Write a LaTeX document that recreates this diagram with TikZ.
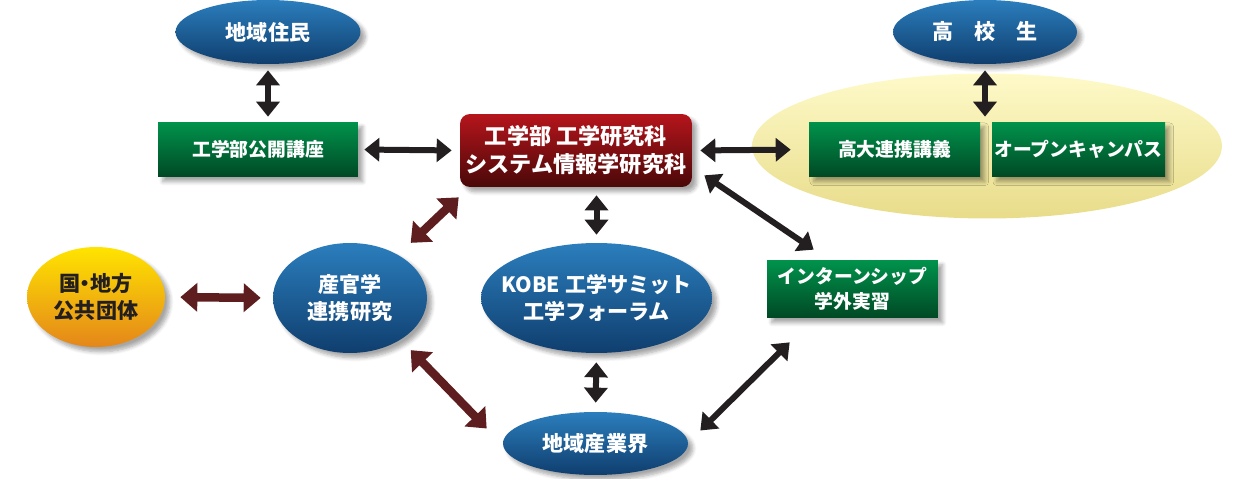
\documentclass[tikz,border=0pt]{standalone}
\usepackage{fontspec}
\setmainfont{Noto Sans CJK JP}
\usetikzlibrary{arrows.meta,shadows,shadows.blur,shapes.geometric}

\definecolor{blueT}{HTML}{2B7EBD}
\definecolor{blueB}{HTML}{0F3E6E}
\definecolor{greenT}{HTML}{00934C}
\definecolor{greenB}{HTML}{004824}
\definecolor{redT}{HTML}{B5151C}
\definecolor{redB}{HTML}{4A0808}
\definecolor{orgT}{HTML}{FFE400}
\definecolor{orgB}{HTML}{E4861A}
\definecolor{ylwT}{HTML}{FEFAC9}
\definecolor{ylwB}{HTML}{E8DC8A}
\definecolor{ink}{HTML}{231F20}
\definecolor{brn}{HTML}{5E1D1E}

\begin{document}
\begin{tikzpicture}[x=0.02cm, y=-0.02cm,
    oval/.style={ellipse, inner sep=0pt, top color=blueT, bottom color=blueB, text=white, align=center,
        font=\bfseries\fontsize{12}{15}\selectfont, blur shadow={shadow blur steps=6, shadow opacity=35}},
    gbox/.style={rectangle, inner sep=0pt, top color=greenT, bottom color=greenB, text=white, align=center,
        minimum height=1.1cm, font=\bfseries\fontsize{10.7}{13}\selectfont, blur shadow={shadow blur steps=6, shadow opacity=35}},
    biarrow/.style={ink, line width=0.12cm, {Triangle[width=0.46cm,length=0.3cm]}-{Triangle[width=0.46cm,length=0.3cm]}},
    redarrow/.style={brn, line width=0.17cm, {Triangle[width=0.56cm,length=0.34cm]}-{Triangle[width=0.56cm,length=0.34cm]}}]
    \useasboundingbox (0,0) rectangle (1236,479);

    % high school group
    \node[ellipse, minimum width=9.4cm, minimum height=2.9cm, top color=ylwT, bottom color=ylwB] (hs) at (987,146) {};

    \node[oval, minimum width=3.7cm, minimum height=1.28cm] (jumin) at (268,32) {地域住民};
    \node[oval, minimum width=3.68cm, minimum height=1.28cm] (kou) at (985,32) {高\quad 校\quad 生};

    \node[gbox, minimum width=4cm] (koukai) at (258,149.5) {工学部公開講座};
    \node[gbox, minimum width=3.42cm] (koudai) at (894.5,149.5) {高大連携講義};
    \node[gbox, minimum width=3.46cm] (open) at (1078.5,149.5) {オープンキャンパス};
    \node[gbox, minimum width=3.42cm, minimum height=1.16cm, font=\bfseries\fontsize{10.7}{14}\selectfont] (intern) at (852.5,289) {インターンシップ\\学外実習};

    \node[rectangle, rounded corners=0.2cm, inner sep=0pt, minimum width=4.64cm, minimum height=1.46cm,
        top color=redT, bottom color=redB, text=white, align=center, font=\bfseries\fontsize{12.6}{16}\selectfont,
        blur shadow={shadow blur steps=6, shadow opacity=35}] (fac) at (576,150.5) {工学部 工学研究科\\システム情報学研究科};

    \node[oval, inner xsep=-0.3cm, minimum width=4.62cm, minimum height=2.2cm] (kobe) at (596.5,298) {KOBE 工学サミット\\工学フォーラム};
    \node[oval, minimum width=3.08cm, minimum height=2.2cm] (sankan) at (350,298) {産官学\\連携研究};
    \node[oval, minimum width=3.7cm, minimum height=1.26cm] (sangyo) at (595.5,443.5) {地域産業界};
    \node[ellipse, inner sep=0pt, minimum width=2.76cm, minimum height=2cm, top color=orgT, bottom color=orgB,
        text=ink, align=center, font=\bfseries\fontsize{12}{15}\selectfont,
        blur shadow={shadow blur steps=6, shadow opacity=35}] (kuni) at (96,297) {国\kern-0.25em・\kern-0.25em地方\\公共団体};

    % links
    \draw[biarrow, shorten <=0.12cm, shorten >=0.1cm] (jumin.south) -- (jumin.south |- koukai.north);
    \draw[biarrow, shorten <=0.12cm, shorten >=0.1cm] (kou.south) -- (kou.south |- open.north);
    \draw[biarrow, shorten <=0.12cm, shorten >=0.16cm] (koukai.east) -- (fac.west);
    \draw[biarrow, shorten <=0.16cm, shorten >=0.36cm] (fac.east) -- (koudai.west);
    \draw[biarrow, shorten <=0.16cm, shorten >=0.16cm] (kobe.north |- fac.south) -- (kobe.north);
    \draw[biarrow, shorten <=0.18cm, shorten >=0.18cm] (kobe.south) -- (sangyo.north);
    \draw[biarrow] ([shift={(12,-12)}]fac.south east) -- ([shift={(47,-10)}]intern.north west);
    \draw[biarrow] ([shift={(23,24)}]intern.south west) -- ([shift={(12,-13)}]sangyo.east);

    \draw[redarrow, shorten <=0.3cm, shorten >=0.24cm] (kuni.east) -- (sankan.west);
    \draw[redarrow] ([shift={(-1,10)}]fac.south west) -- ([shift={(6,-16)}]sankan.north east);
    \draw[redarrow] ([shift={(6,13)}]sankan.south east) -- ([shift={(-16,-15)}]sangyo.west);
\end{tikzpicture}
\end{document}
